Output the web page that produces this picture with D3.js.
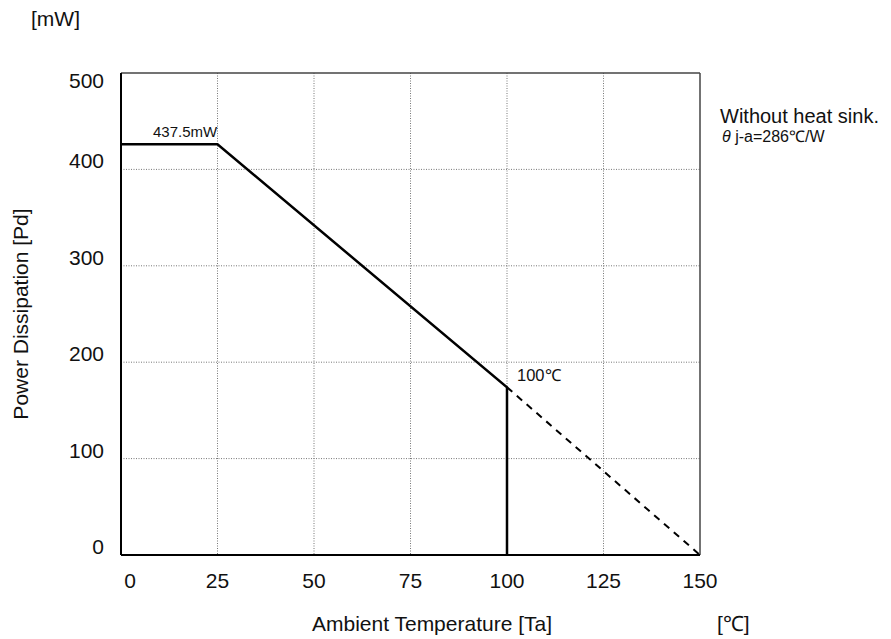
<!DOCTYPE html>
<html>
<head>
<meta charset="utf-8">
<script src="https://cdn.jsdelivr.net/npm/d3@7"></script>
<style>
  body { margin: 0; background: #fff; }
  text { font-family: "Liberation Sans", Arial, sans-serif; fill: #111; }
</style>
</head>
<body>
<div id="chart"></div>
<script>
// derating curve
const tempSolid = [0, 25, 100, 100];
const powerSolid = [426, 426, 174, 0];
const tempDashed = [100, 150];
const powerDashed = [174, 0];
const xTicks = [0, 25, 50, 75, 100, 125, 150];
const yTicks = [0, 100, 200, 300, 400, 500];

const width = 891, height = 639;
const margin = { top: 73, right: 191, bottom: 84, left: 121 };

const svg = d3.select("#chart").append("svg")
    .attr("width", width)
    .attr("height", height);

const x = d3.scaleLinear().domain([0, 150]).range([margin.left, width - margin.right]);
const y = d3.scaleLinear().domain([0, 500]).range([height - margin.bottom, margin.top]);

// grid
svg.append("g").selectAll("line")
  .data(xTicks.slice(1, -1)).enter()
  .append("line")
  .attr("x1", d => x(d)).attr("x2", d => x(d))
  .attr("y1", y(500)).attr("y2", y(0))
  .style("stroke", "#777").style("stroke-width", 1).style("stroke-dasharray", "1,1.5");

svg.append("g").selectAll("line")
  .data(yTicks.slice(1, -1)).enter()
  .append("line")
  .attr("x1", x(0)).attr("x2", x(150))
  .attr("y1", d => y(d)).attr("y2", d => y(d))
  .style("stroke", "#777").style("stroke-width", 1).style("stroke-dasharray", "1,1.5");

// frame
svg.append("line").attr("x1", x(0)).attr("x2", x(150)).attr("y1", y(500)).attr("y2", y(500))
  .style("stroke", "#444").style("stroke-width", 1.5);
svg.append("line").attr("x1", x(150)).attr("x2", x(150)).attr("y1", y(500)).attr("y2", y(0))
  .style("stroke", "#444").style("stroke-width", 1.5);
svg.append("line").attr("x1", x(0)).attr("x2", x(0)).attr("y1", y(500)).attr("y2", y(0))
  .style("stroke", "#000").style("stroke-width", 2);
svg.append("line").attr("x1", x(0)).attr("x2", x(150)).attr("y1", y(0)).attr("y2", y(0))
  .style("stroke", "#000").style("stroke-width", 2);

// tick labels
svg.append("g").selectAll("text")
  .data(xTicks).enter()
  .append("text")
  .attr("x", d => x(d) + (d === 0 ? 9 : 0))
  .attr("y", y(0) + 33)
  .attr("text-anchor", "middle")
  .style("font-size", "21px")
  .text(d => d);

svg.append("g").selectAll("text")
  .data(yTicks).enter()
  .append("text")
  .attr("x", x(0) - 17)
  .attr("y", d => y(d) + (d === 500 ? 15 : -1))
  .attr("text-anchor", "end")
  .style("font-size", "21px")
  .text(d => d);

// curve
const line = d3.line().x(d => x(d[0])).y(d => y(d[1]));

svg.append("path")
  .datum(d3.zip(tempSolid, powerSolid))
  .attr("d", line)
  .style("fill", "none").style("stroke", "#000").style("stroke-width", 2.5);

svg.append("path")
  .datum(d3.zip(tempDashed, powerDashed))
  .attr("d", line)
  .style("fill", "none").style("stroke", "#000").style("stroke-width", 2)
  .style("stroke-dasharray", "7,6");

// annotations
svg.append("text").attr("x", 153).attr("y", 137).style("font-size", "15px").text("437.5mW");
svg.append("text").attr("x", 517).attr("y", 381).style("font-size", "16.5px").text("100℃");
svg.append("text").attr("x", 720).attr("y", 123).style("font-size", "20px").text("Without heat sink.");
svg.append("text").attr("x", 722).attr("y", 142).style("font-size", "16px")
  .html('<tspan font-style="italic">θ</tspan> j-a=286℃/W');

// axis titles
svg.append("text").attr("x", 31).attr("y", 26).style("font-size", "21px").text("[mW]");
svg.append("text")
  .attr("transform", "translate(28," + 314 + ") rotate(-90)")
  .attr("text-anchor", "middle")
  .style("font-size", "21px")
  .text("Power Dissipation [Pd]");
svg.append("text").attr("x", 432).attr("y", 631).attr("text-anchor", "middle")
  .style("font-size", "21px").text("Ambient Temperature [Ta]");
svg.append("text").attr("x", 717).attr("y", 631).style("font-size", "21px").text("[℃]");
</script>
</body>
</html>
